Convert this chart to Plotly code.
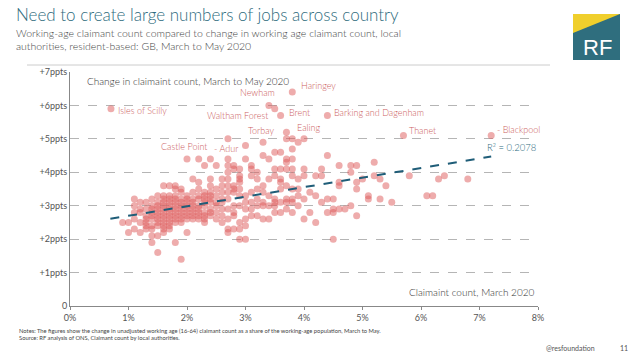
import plotly.graph_objects as go

# ---- data ----
# x: claimant count March 2020 (% of working-age pop), y: change Mar-May 2020 (ppts)
claimant_march = (
    [0.7] + [0.9] + [1.0]*2 + [1.1]*5 + [1.2]*5 + [1.3]*7 + [1.4]*10 + [1.5]*11 +
    [1.6]*13 + [1.7]*12 + [1.8]*12 + [1.9]*11 + [2.0]*10 + [2.1]*9 + [2.2]*10 +
    [2.3]*10 + [2.4]*10 + [2.5]*7 + [2.6]*8 + [2.7]*12 + [2.8]*9 + [2.9]*10 +
    [3.0]*8 + [3.1]*7 + [3.2]*6 + [3.3]*7 + [3.4]*6 + [3.5]*8 + [3.6]*8 + [3.7]*9 +
    [3.8]*10 + [3.9]*5 + [4.0]*5 + [4.1]*2 + [4.2]*3 + [4.3]*3 + [4.4]*4 + [4.5]*4 +
    [4.6]*4 + [4.7] + [4.8]*3 + [4.9]*4 + [5.0] + [5.1]*2 + [5.2]*2 + [5.3]*2 +
    [5.4] + [5.5] + [5.7] + [5.8] + [6.1] + [6.2] + [6.3] + [6.4] + [6.8] + [7.2]
)
claimant_change = [
    5.9,
    2.5,
    2.5, 2.2,
    3.2, 3.0, 2.8, 2.6, 2.3,
    3.1, 2.9, 2.8, 2.5, 2.2,
    3.1, 2.9, 2.7, 2.6, 2.5, 2.4, 2.3,
    3.2, 3.0, 2.9, 2.8, 2.7, 2.6, 2.4, 2.3, 2.1, 1.9,
    3.3, 3.1, 3.0, 2.9, 2.8, 2.7, 2.6, 2.5, 2.4, 2.1, 1.6,
    3.6, 3.3, 3.2, 3.1, 3.0, 2.9, 2.8, 2.7, 2.6, 2.5, 2.4, 2.3, 2.2,
    3.6, 3.3, 3.2, 3.1, 3.0, 2.9, 2.8, 2.7, 2.6, 2.5, 2.4, 2.3,
    3.6, 3.5, 3.3, 3.2, 3.1, 3.0, 2.9, 2.8, 2.7, 2.6, 2.5, 1.9,
    3.5, 3.4, 3.2, 3.1, 3.0, 2.9, 2.8, 2.7, 2.6, 2.5, 1.4,
    4.4, 3.3, 3.2, 3.1, 3.0, 2.9, 2.8, 2.7, 2.6, 2.2,
    3.8, 3.4, 3.2, 3.1, 3.0, 2.9, 2.8, 2.7, 2.6,
    4.4, 3.7, 3.5, 3.3, 3.2, 3.0, 2.9, 2.8, 2.7, 2.6,
    4.2, 3.4, 3.3, 3.2, 3.1, 3.0, 2.8, 2.7, 2.6, 2.5,
    4.4, 3.8, 3.6, 3.4, 3.3, 3.2, 3.1, 2.9, 2.8, 2.7,
    4.2, 3.5, 3.3, 3.1, 3.0, 2.8, 2.6,
    3.8, 3.6, 3.4, 3.2, 3.1, 2.9, 2.7, 2.5,
    5.0, 4.4, 4.2, 4.0, 3.8, 3.6, 3.4, 3.2, 2.9, 2.6, 2.3, 2.2,
    4.2, 4.1, 3.6, 3.5, 3.4, 3.0, 2.8, 2.7, 2.3,
    4.1, 3.9, 3.8, 3.7, 3.5, 3.3, 3.0, 2.5, 2.3, 2.0,
    4.8, 4.4, 3.3, 3.1, 2.9, 2.6, 2.4, 2.0,
    4.2, 4.1, 3.9, 3.4, 3.1, 2.9, 2.7,
    4.0, 3.8, 3.5, 3.2, 3.0, 2.7,
    4.9, 4.5, 3.6, 3.4, 3.1, 3.0, 2.6,
    6.0, 4.4, 3.8, 3.3, 3.0, 2.6,
    5.9, 4.6, 4.1, 3.9, 3.2, 3.1, 3.0, 2.8,
    5.7, 4.6, 4.1, 3.8, 3.7, 3.5, 3.1, 2.8,
    5.2, 5.0, 4.4, 4.3, 4.1, 3.6, 3.2, 3.1, 2.9,
    6.4, 5.0, 4.7, 4.4, 4.1, 3.9, 3.5, 3.2, 3.1, 2.8,
    4.9, 3.8, 3.5, 3.3, 3.0,
    5.0, 4.1, 3.9, 3.2, 2.6,
    3.4, 2.8,
    3.9, 3.3, 2.5,
    4.1, 3.9, 3.1,
    5.7, 4.5, 3.2, 2.8,
    3.2, 2.9, 2.8, 2.0,
    4.2, 3.7, 3.6, 2.9,
    2.9,
    4.2, 4.0, 3.0,
    4.2, 3.7, 3.5, 2.7,
    3.8,
    3.3, 3.2,
    4.3, 3.9,
    3.8, 3.2,
    3.6,
    3.1,
    5.1,
    3.9,
    3.3,
    3.3,
    3.8,
    3.9,
    3.8,
    5.1,
]

label_names = ["Isles of Scilly", "Haringey", "Newham", "Waltham Forest", "Brent",
               "Barking and Dagenham", "Ealing", "Torbay", "Castle Point", "- Adur",
               "Thanet", "- Blackpool"]
label_x = [0.7, 3.8, 3.4, 3.5, 3.6, 4.4, 4.0, 3.7, 2.0, 2.4, 5.7, 7.2]
label_y = [5.9, 6.4, 6.0, 5.9, 5.7, 5.7, 5.0, 5.2, 4.4, 4.4, 5.1, 5.1]

trend_x = [0.69, 7.2]
trend_y = [2.61, 4.47]
r_squared = "R² = 0.2078"

y_tickvals = [0, 1, 2, 3, 4, 5, 6, 7]
y_ticktext = ["0", "+1ppts", "+2ppts", "+3ppts", "+4ppts", "+5ppts", "+6ppts", "+7ppts"]
x_tickvals = [0, 1, 2, 3, 4, 5, 6, 7, 8]
x_ticktext = ["0%", "1%", "2%", "3%", "4%", "5%", "6%", "7%", "8%"]

# ---- styles / layout ----
FONT = "Lato"
TEAL = "#2e6b7d"
LABEL_RED = "#cc6161"
W, H = 638, 359
ML, MR, MT, MB = 70, 100, 72, 53
PW, PH = W - ML - MR, H - MT - MB


def px(xs):
    """screen x pixel -> paper"""
    return (xs - ML) / PW


def py(ys):
    """screen y pixel -> paper"""
    return (H - MB - ys) / PH


fig = go.Figure()
fig.add_trace(go.Scatter(
    x=claimant_march, y=claimant_change, mode="markers",
    marker=dict(size=7, color="rgba(222,90,90,0.5)", line=dict(width=0)),
    showlegend=False, hoverinfo="skip"))
fig.add_trace(go.Scatter(
    x=trend_x, y=trend_y, mode="lines",
    line=dict(color="#1f5d78", width=2, dash="dash"),
    showlegend=False, hoverinfo="skip"))

# label offsets (pixels): (xanchor, xshift, yshift)
offsets = [("left", 5, -2), ("left", 7, 7), ("center", -11, 13), ("right", -5, -7),
           ("left", 6, 3), ("left", 5, 3), ("center", 4, 11), ("right", -9, 2),
           ("center", -3, 12), ("left", 2, 10), ("left", 4, 5), ("left", 4, 6)]
annotations = []
for name, lx, ly, (xa, xs, ys) in zip(label_names, label_x, label_y, offsets):
    annotations.append(dict(x=lx, y=ly, text=name, showarrow=False, xanchor=xa,
                            yanchor="middle", xshift=xs, yshift=ys,
                            font=dict(family=FONT, size=9, color=LABEL_RED, weight=300)))

annotations += [
    dict(x=8.0, y=4.74, text=r_squared, showarrow=False, xanchor="right", yanchor="middle",
         font=dict(family=FONT, size=9.5, color=TEAL, weight=300)),
    dict(x=0.26, y=6.73, text="Change in claimaint count, March to May 2020", showarrow=False,
         xanchor="left", yanchor="middle", font=dict(family=FONT, size=10, color="#333", weight=300)),
    dict(x=7.99, y=0.42, text="Claimaint count, March 2020", showarrow=False,
         xanchor="right", yanchor="middle", font=dict(family=FONT, size=10, color="#333", weight=300)),
    # titles
    dict(xref="paper", yref="paper", x=px(14), y=py(14), text="Need to create large numbers of jobs across country",
         showarrow=False, xanchor="left", yanchor="middle",
         font=dict(family=FONT, size=17, color=TEAL, weight=300)),
    dict(xref="paper", yref="paper", x=px(14), y=py(33),
         text="Working-age claimant count compared to change in working age claimant count, local",
         showarrow=False, xanchor="left", yanchor="middle",
         font=dict(family=FONT, size=10.5, color="#444", weight=300)),
    dict(xref="paper", yref="paper", x=px(14), y=py(46),
         text="authorities, resident-based: GB, March to May 2020",
         showarrow=False, xanchor="left", yanchor="middle",
         font=dict(family=FONT, size=10.5, color="#444", weight=300)),
    # footer
    dict(xref="paper", yref="paper", x=px(17), y=py(330),
         text="Notes: The figures show the change in unadjusted working age (16-64) claimant count as a share of the working-age population, March to May.",
         showarrow=False, xanchor="left", yanchor="middle", font=dict(family=FONT, size=5.8, color="#444")),
    dict(xref="paper", yref="paper", x=px(17), y=py(337),
         text="Source: RF analysis of ONS, Claimant count by local authorities.",
         showarrow=False, xanchor="left", yanchor="middle", font=dict(family=FONT, size=5.8, color="#444")),
    dict(xref="paper", yref="paper", x=px(597), y=py(348), text="@resfoundation",
         showarrow=False, xanchor="right", yanchor="middle", font=dict(family=FONT, size=7, color="#555")),
    dict(xref="paper", yref="paper", x=px(624), y=py(348), text="11",
         showarrow=False, xanchor="center", yanchor="middle", font=dict(family=FONT, size=7, color="#555")),
    # logo text
    dict(xref="paper", yref="paper", x=px(597), y=py(48), text="RF", showarrow=False,
         xanchor="center", yanchor="middle", font=dict(family="Liberation Sans", size=22, color="white")),
]

shapes = [
    dict(type="line", xref="paper", yref="paper", x0=px(27), x1=px(550), y0=py(65), y1=py(65),
         line=dict(color="#cccccc", width=1)),
    dict(type="rect", xref="paper", yref="paper", x0=px(573), x1=px(620), y0=py(60), y1=py(14),
         fillcolor="#2f6e7e", line=dict(width=0), layer="above"),
    dict(type="path", xref="paper", yref="paper",
         path=f"M {px(573)},{py(14)} L {px(620)},{py(14)} L {px(573)},{py(33)} Z",
         fillcolor="#f0cf2c", line=dict(width=0), layer="above"),
]

fig.update_layout(
    width=W, height=H,
    margin=dict(l=ML, r=MR, t=MT, b=MB),
    paper_bgcolor="white", plot_bgcolor="white",
    annotations=annotations, shapes=shapes,
    font=dict(family=FONT, color="#555"),
    hovermode=False,
    xaxis=dict(range=[0, 8], tickvals=x_tickvals, ticktext=x_ticktext, showgrid=False,
               zeroline=False, showline=True, linecolor="#888", linewidth=1,
               ticks="outside", ticklen=3, tickcolor="#888",
               tickfont=dict(family=FONT, size=9, color="#555")),
    yaxis=dict(range=[0, 7], tickvals=y_tickvals, ticktext=y_ticktext, showgrid=True,
               gridcolor="#b5b5b5", griddash="dash", gridwidth=1, zeroline=False,
               showline=True, linecolor="#888", linewidth=1, ticks="",
               tickfont=dict(family=FONT, size=9, color="#555")),
)

fig.write_html("out.html", config={"displayModeBar": False},
               post_script="document.body.style.margin='0';document.body.style.overflow='hidden';")
